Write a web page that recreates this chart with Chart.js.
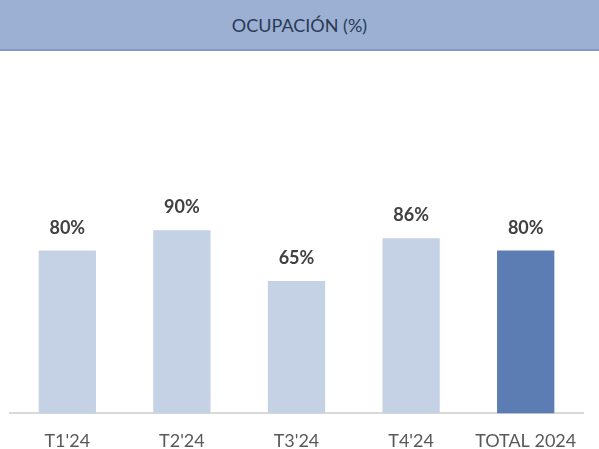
<!DOCTYPE html>
<html>
<head>
<meta charset="utf-8">
<script src="https://cdn.jsdelivr.net/npm/chart.js@4"></script>
<style>
  body { margin: 0; background: #fff; overflow: hidden; }
  #header {
    width: 599px; height: 49px; background: #9bb0d2;
    border-bottom: 2px solid #7f9cc9;
    font-family: Lato, "Open Sans", sans-serif; font-size: 18px; color: #2b3a55;
    display: flex; align-items: center; justify-content: center;
  }
  #wrap { position: relative; width: 599px; height: 410px; }
</style>
</head>
<body>
<div id="header">OCUPACIÓN (%)</div>
<div id="wrap"><canvas id="occChart"></canvas></div>
<script>
// chart data
const categories = ["T1'24", "T2'24", "T3'24", "T4'24", "TOTAL 2024"];
const occupancy = [80, 90, 65, 86, 80];
const barColors = ['#c5d1e4', '#c5d1e4', '#c5d1e4', '#c5d1e4', '#5b7db4'];

// draws the % labels above each bar
const valueLabels = {
  id: 'valueLabels',
  afterDatasetsDraw(chart) {
    const ctx = chart.ctx;
    const meta = chart.getDatasetMeta(0);
    ctx.save();
    ctx.font = 'bold 18px Lato, "Open Sans", sans-serif';
    ctx.fillStyle = '#404040';
    ctx.textAlign = 'center';
    ctx.textBaseline = 'alphabetic';
    meta.data.forEach((bar, i) => {
      ctx.fillText(occupancy[i] + '%', bar.x, bar.y - 17);
    });
    ctx.restore();
  }
};

const ctx = document.getElementById('occChart').getContext('2d');
const occChart = new Chart(ctx, {
  type: 'bar',
  data: {
    labels: categories,
    datasets: [{
      data: occupancy,
      backgroundColor: barColors,
      categoryPercentage: 1,
      barPercentage: 0.5
    }]
  },
  options: {
    responsive: true,
    maintainAspectRatio: false,
    animation: false,
    layout: { padding: { left: 10, right: 16, top: 0, bottom: 0 } },
    plugins: {
      legend: { display: false },
      tooltip: { enabled: false }
    },
    scales: {
      x: {
        grid: { display: false },
        border: { display: true, color: '#d9d9d9', width: 2 },
        ticks: {
          color: '#595959',
          font: { family: 'Lato, "Open Sans", sans-serif', size: 18 },
          padding: 9
        }
      },
      y: {
        display: false,
        min: 0,
        max: 178
      }
    }
  },
  plugins: [valueLabels]
});
</script>
</body>
</html>
